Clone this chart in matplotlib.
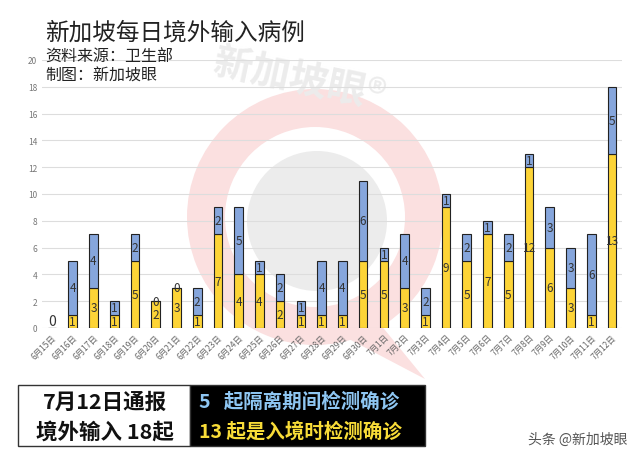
import matplotlib.pyplot as plt
import matplotlib.patches as mpatches
import numpy as np

plt.rcParams['font.family'] = ['Noto Sans CJK SC', 'DejaVu Sans']

dates = ['6月15日', '6月16日', '6月17日', '6月18日', '6月19日', '6月20日', '6月21日',
         '6月22日', '6月23日', '6月24日', '6月25日', '6月26日', '6月27日', '6月28日',
         '6月29日', '6月30日', '7月1日', '7月2日', '7月3日', '7月4日', '7月5日',
         '7月6日', '7月7日', '7月8日', '7月9日', '7月10日', '7月11日', '7月12日']
# 入境时检测确诊
arrival = [0, 1, 3, 1, 5, 2, 3, 1, 7, 4, 4, 2, 1, 1, 1, 5, 5, 3, 1, 9, 5, 7, 5, 12, 6, 3, 1, 13]
# 隔离期间检测确诊
quarantine = [0, 4, 4, 1, 2, 0, 0, 2, 2, 5, 1, 2, 1, 4, 4, 6, 1, 4, 2, 1, 2, 1, 2, 1, 3, 3, 6, 5]

yellow = '#fdd437'
blue = '#86a6dc'

fig = plt.figure(figsize=(6.4, 4.64), dpi=100)
fig.patch.set_facecolor('white')

# watermark in a background axes
bg = fig.add_axes([0, 0, 1, 1], zorder=0)
bg.set_xlim(0, 640)
bg.set_ylim(464, 0)
bg.axis('off')
bg.add_patch(mpatches.Wedge((315, 218), 128, 0, 360, width=38, facecolor='#fbe0e0', edgecolor='none'))
bg.add_patch(mpatches.Polygon([(380, 325), (425, 380), (345, 338)], facecolor='#fbe0e0', edgecolor='none'))
bg.add_patch(mpatches.Circle((317, 222), 70, facecolor='#ececec', edgecolor='none'))
bg.text(300, 80, '新加坡眼®', fontsize=28, fontweight='bold', color='#ececec',
        rotation=-12, ha='center', va='center')

ax = fig.add_axes([42 / 640, 135 / 464, 580 / 640, 268 / 464], zorder=2)
ax.patch.set_alpha(0)

x = np.arange(len(dates))
b1 = ax.bar(x, arrival, width=0.42, color=yellow, edgecolor='#222222', linewidth=0.8, zorder=3)
b2 = ax.bar(x, quarantine, width=0.42, bottom=arrival, color=blue, edgecolor='#222222',
            linewidth=0.8, zorder=3)

lab1 = ['' if i == 0 else str(v) for i, v in enumerate(arrival)]
lab2 = ['' if i == 0 else str(v) for i, v in enumerate(quarantine)]
ax.bar_label(b1, labels=lab1, label_type='center', fontsize=8.5, color='#333333', zorder=4)
ax.bar_label(b2, labels=lab2, label_type='center', fontsize=8.5, color='#333333', zorder=4)
ax.text(0, 0.5, '0', fontsize=10, color='#333333', ha='center', va='center')

ax.set_ylim(0, 20)
ax.set_xlim(-0.48, len(dates) - 0.52)
ax.set_yticks(range(0, 21, 2))
ax.set_xticks(x)
ax.set_xticklabels(dates, rotation=45, ha='right', rotation_mode='anchor', fontsize=6, color='#666666')
ax.tick_params(axis='y', labelsize=6, labelcolor='#777777', length=0)
ax.tick_params(axis='x', length=0, pad=3)
ax.grid(axis='y', color='#dddddd', linewidth=0.8, zorder=0)
for s in ax.spines.values():
    s.set_visible(False)

# titles and boxes in a top overlay
fg = fig.add_axes([0, 0, 1, 1], zorder=3)
fg.set_xlim(0, 640)
fg.set_ylim(464, 0)
fg.axis('off')
fg.patch.set_alpha(0)

fg.text(45, 33, '新加坡每日境外输入病例', fontsize=17, color='#222222', va='center')
fg.text(45, 57, '资料来源：卫生部', fontsize=11.5, color='#222222', va='center')
fg.text(45, 76, '制图：新加坡眼', fontsize=11.5, color='#222222', va='center')

fg.add_patch(mpatches.Rectangle((18, 386), 172, 61, facecolor='white', edgecolor='#333333', linewidth=1))
fg.add_patch(mpatches.Rectangle((190, 386), 235, 61, facecolor='black', edgecolor='#333333', linewidth=1))
fg.text(105, 402, '7月12日通报', fontsize=15.5, fontweight='bold', color='#111111', ha='center', va='center')
fg.text(105, 432, '境外输入 18起', fontsize=15.5, fontweight='bold', color='#111111', ha='center', va='center')
fg.text(199, 402, '5   起隔离期间检测确诊', fontsize=14, fontweight='bold', color='#8ec6f2',
        ha='left', va='center')
fg.text(199, 432, '13 起是入境时检测确诊', fontsize=14, fontweight='bold', color='#f8dc38',
        ha='left', va='center')

fg.text(578, 440, '头条 @新加坡眼', fontsize=10, color='#555555', ha='center', va='center')

fig.savefig('out.png', dpi=100)
